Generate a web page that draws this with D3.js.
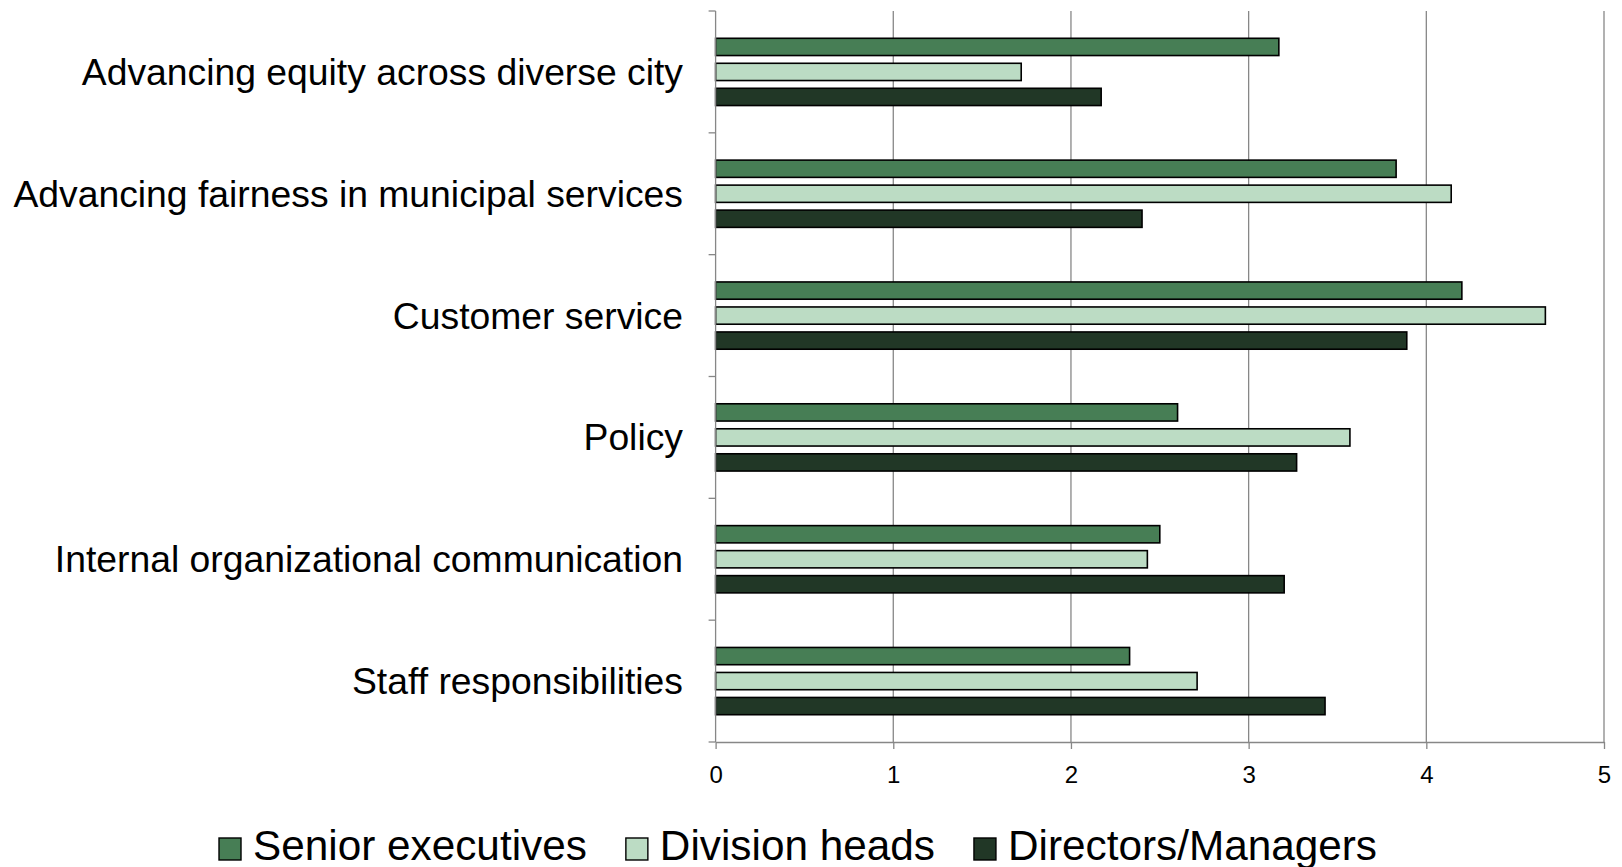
<!DOCTYPE html>
<html>
<head>
<meta charset="utf-8">
<script src="https://cdn.jsdelivr.net/npm/d3@7"></script>
<style>
  html, body { margin: 0; padding: 0; background: #ffffff; }
  svg { display: block; font-family: "Liberation Sans", Arial, sans-serif; }
</style>
</head>
<body>
<svg id="chart" width="1622" height="867"></svg>
<script>
const categories = [
  "Advancing equity across diverse city",
  "Advancing fairness in municipal services",
  "Customer service",
  "Policy",
  "Internal organizational communication",
  "Staff responsibilities"
];
const seriesNames = ["Senior executives", "Division heads", "Directors/Managers"];
const seniorExecutives = [3.17, 3.83, 4.20, 2.60, 2.50, 2.33];
const divisionHeads    = [1.72, 4.14, 4.67, 3.57, 2.43, 2.71];
const directorsManagers = [2.17, 2.40, 3.89, 3.27, 3.20, 3.43];
const xTicks = [0, 1, 2, 3, 4, 5];
const colors = ["#477e55", "#bcdcc4", "#213726"];

(function () {
const seriesValues = [seniorExecutives, divisionHeads, directorsManagers];
const rows = categories.map((c, i) => ({
  category: c,
  values: seriesNames.map((s, j) => ({ series: s, value: seriesValues[j][i], color: colors[j] }))
}));

const svg = d3.select("#chart");
const plotLeft = 715.6, plotRight = 1604, plotTop = 11, plotBottom = 742;

const x = d3.scaleLinear().domain([0, 5]).range([plotLeft, plotRight]);
const y0 = d3.scaleBand().domain(categories).range([plotTop, plotBottom]).paddingInner(0).paddingOuter(0);
const clusterH = 75;
const y1 = d3.scaleBand().domain(seriesNames)
  .range([(y0.bandwidth() - clusterH) / 2, (y0.bandwidth() + clusterH) / 2])
  .paddingInner(0.31).paddingOuter(0.155);

// gridlines
svg.append("g")
  .selectAll("line")
  .data(xTicks.slice(1))
  .join("line")
  .attr("x1", d => x(d)).attr("x2", d => x(d))
  .attr("y1", plotTop).attr("y2", plotBottom)
  .attr("stroke", "#878787").attr("stroke-width", 1.3);

// bars
const groups = svg.append("g")
  .selectAll("g")
  .data(rows)
  .join("g")
  .attr("transform", d => `translate(0,${y0(d.category)})`);

groups.selectAll("rect")
  .data(d => d.values)
  .join("rect")
  .attr("x", x(0))
  .attr("y", d => y1(d.series))
  .attr("width", d => x(d.value) - x(0))
  .attr("height", y1.bandwidth())
  .attr("fill", d => d.color)
  .attr("stroke", "#000000")
  .attr("stroke-width", 1.6);

// bottom axis
const xAxis = d3.axisBottom(x).tickValues(xTicks).tickFormat(d3.format("d")).tickSizeInner(7).tickSizeOuter(0);
const gx = svg.append("g").attr("transform", `translate(0,${plotBottom})`).call(xAxis);
gx.attr("font-family", "Liberation Sans, Arial, sans-serif").attr("font-size", 24);
gx.select(".domain").attr("stroke", "#878787").attr("stroke-width", 1.3);
gx.selectAll(".tick line").attr("stroke", "#878787").attr("stroke-width", 1.3);
gx.selectAll(".tick text")
  .attr("font-size", 24).attr("fill", "#000")
  .attr("y", 32).attr("dy", null).attr("dominant-baseline", "central");

// left axis
const boundaries = categories.map(c => y0(c)).concat([plotBottom]);
svg.append("line")
  .attr("x1", plotLeft).attr("x2", plotLeft).attr("y1", plotTop).attr("y2", plotBottom)
  .attr("stroke", "#878787").attr("stroke-width", 1.3);
svg.append("g").selectAll("line")
  .data(boundaries)
  .join("line")
  .attr("x1", plotLeft - 7).attr("x2", plotLeft)
  .attr("y1", d => d).attr("y2", d => d)
  .attr("stroke", "#878787").attr("stroke-width", 1.3);

// category labels
svg.append("g").selectAll("text")
  .data(categories)
  .join("text")
  .attr("x", 683)
  .attr("y", d => y0(d) + y0.bandwidth() / 2)
  .attr("text-anchor", "end")
  .attr("dominant-baseline", "central")
  .attr("font-size", 37.3)
  .attr("fill", "#000")
  .text(d => d);

// legend
const legend = svg.append("g");
const items = legend.selectAll("g").data(seriesNames.map((s, i) => ({ s, c: colors[i] }))).join("g");
items.append("rect")
  .attr("width", 22).attr("height", 22).attr("y", -22)
  .attr("fill", d => d.c).attr("stroke", "#000").attr("stroke-width", 1.4);
items.append("text")
  .attr("x", 34).attr("y", 0)
  .attr("font-size", 42.3).attr("fill", "#000")
  .text(d => d.s);
let cx = 0;
const widths = [];
items.each(function () {
  widths.push(34 + this.querySelector("text").getComputedTextLength());
});
items.attr("transform", (d, i) => {
  const t = `translate(${cx},0)`;
  cx += widths[i] + 39;
  return t;
});
const total = cx - 39;
legend.attr("transform", `translate(${798 - total / 2},860)`);
})();
</script>
</body>
</html>
